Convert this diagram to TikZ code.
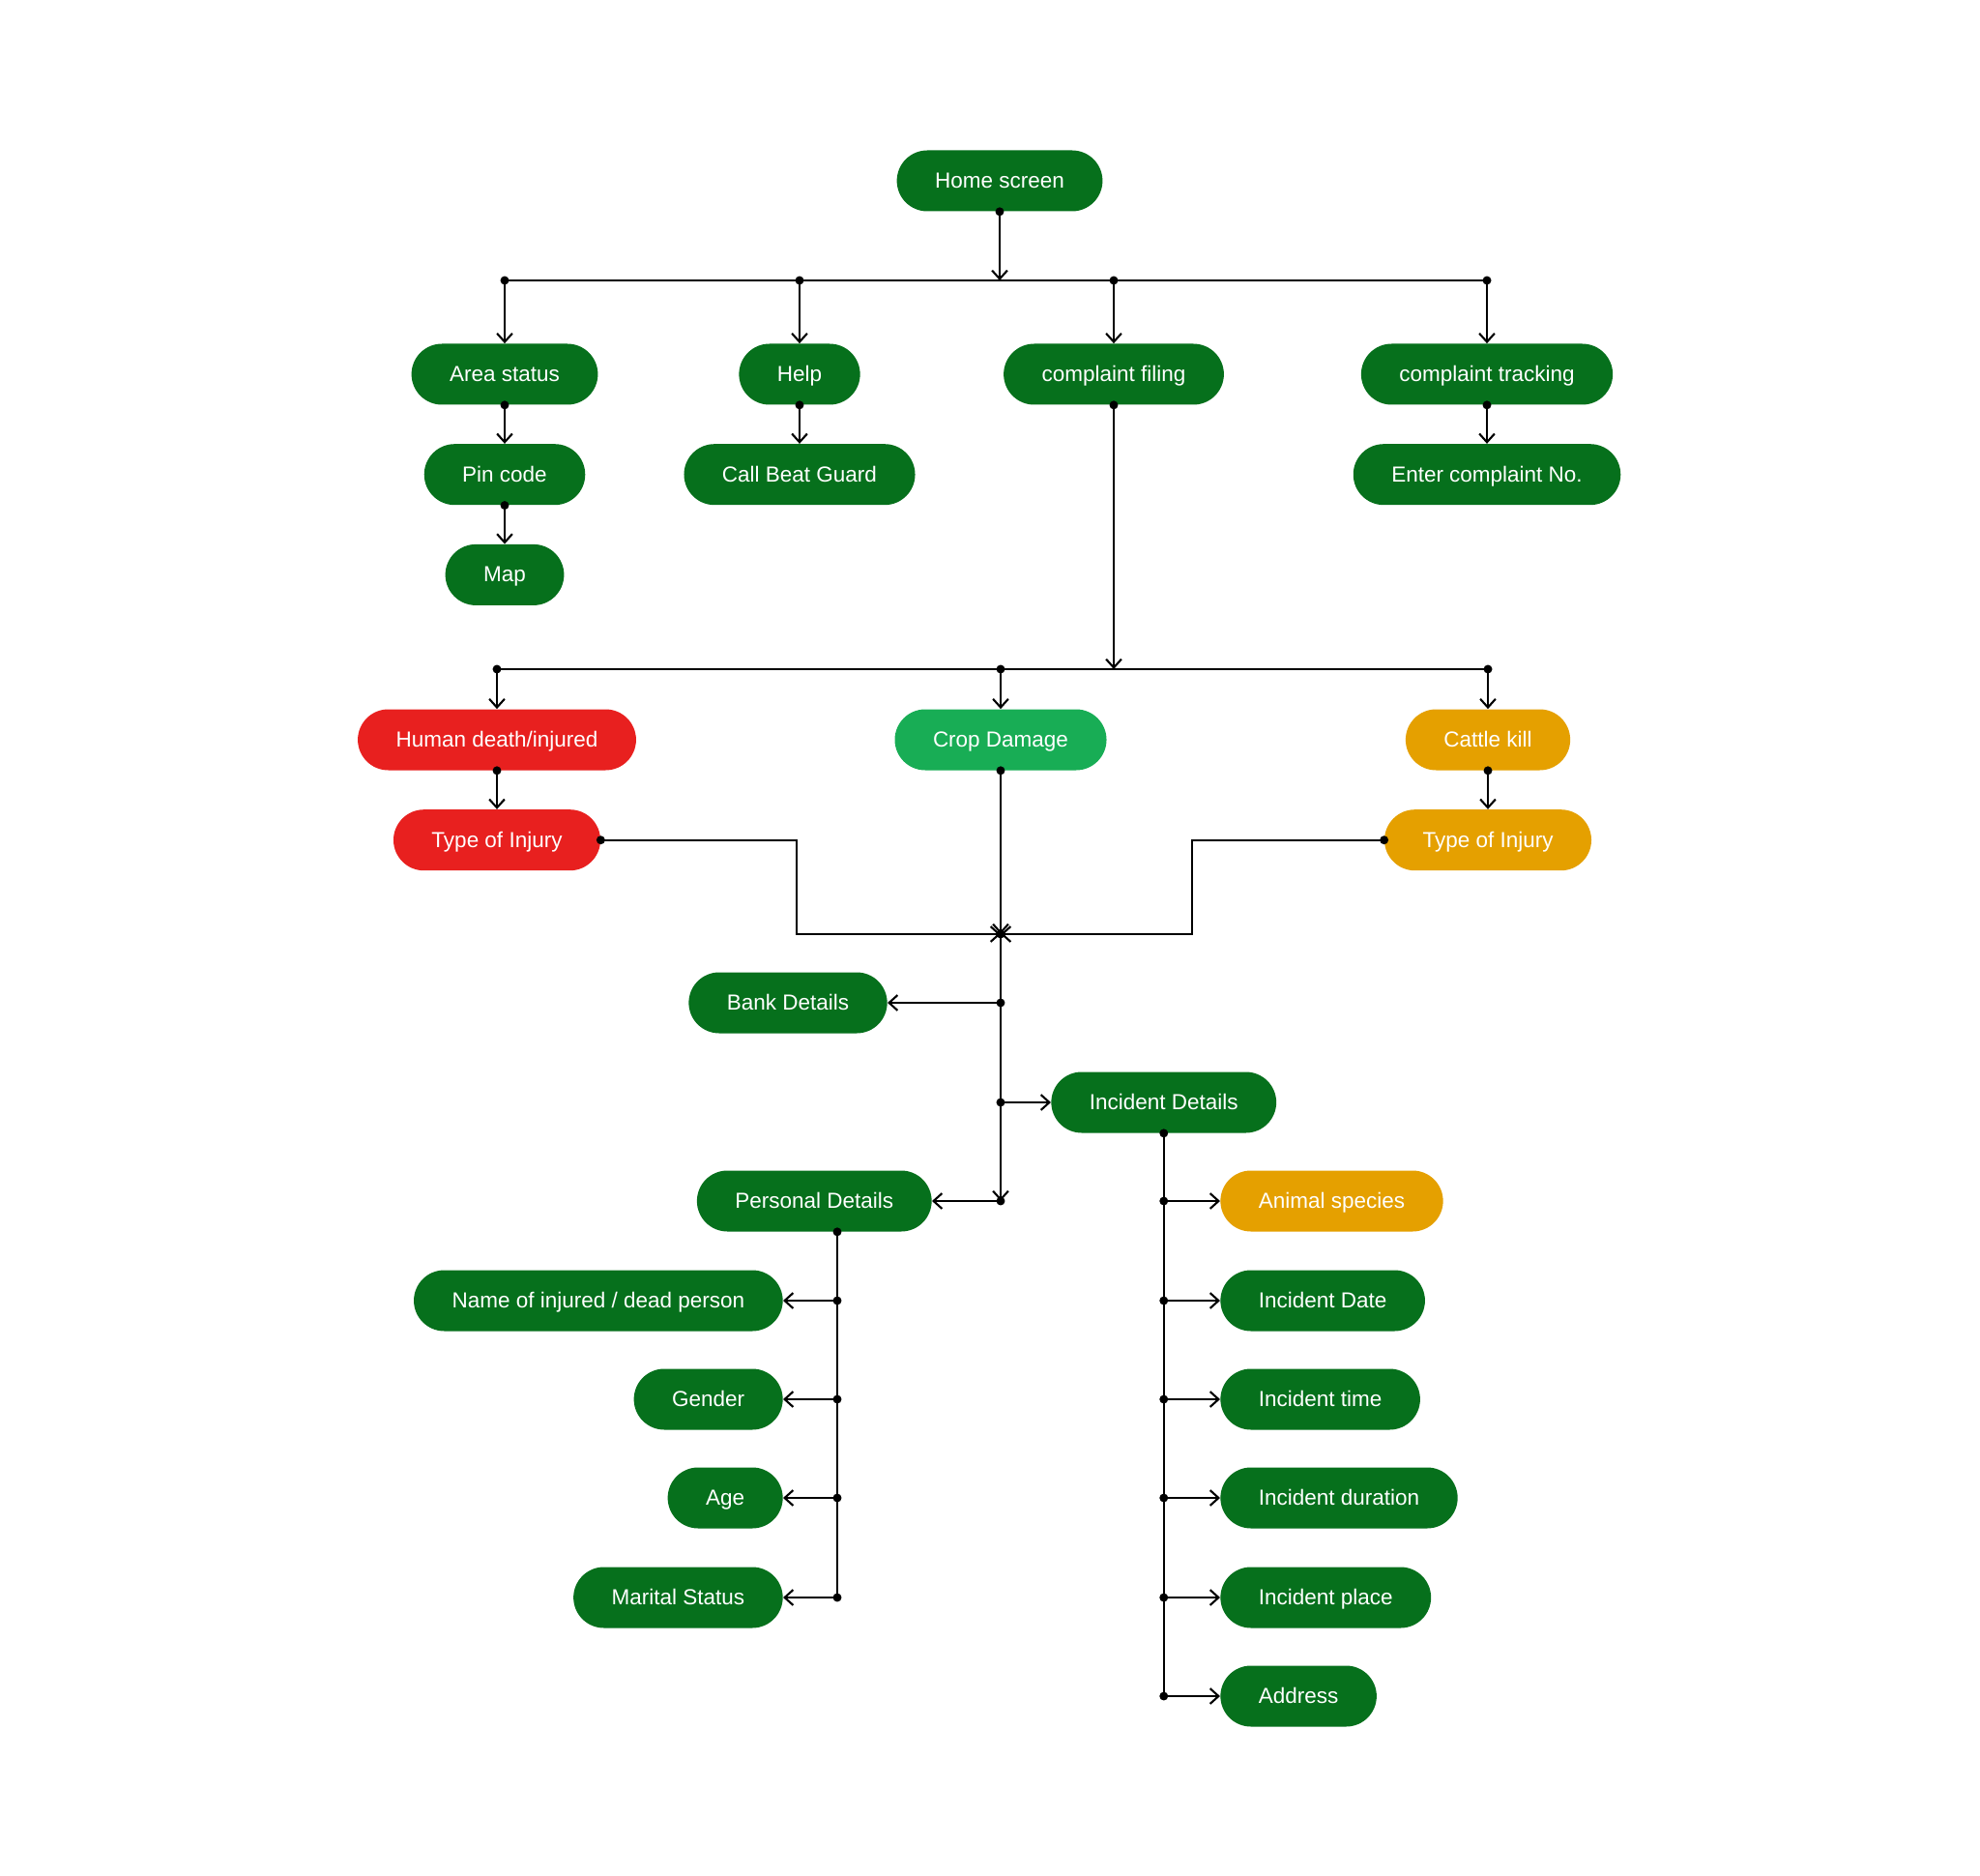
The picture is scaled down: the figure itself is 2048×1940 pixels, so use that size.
\documentclass[tikz,border=0pt]{standalone}
\usepackage{fontspec}
\setmainfont{Liberation Sans}
\usetikzlibrary{arrows.meta, positioning}
\definecolor{appgreen}{HTML}{06701C}
\definecolor{cropgreen}{HTML}{18AD55}
\definecolor{injred}{HTML}{E8201F}
\definecolor{cattleorg}{HTML}{E5A000}
\tikzset{
    screen/.style={
        rectangle, rounded corners=0.63cm, minimum height=1.26cm, inner xsep=0.79cm,
        fill=appgreen, text=white, font=\fontsize{12.8}{15}\selectfont,
        text height=2ex, text depth=0.4ex
    },
    humanbox/.style={
        fill=injred
    },
    cropbox/.style={
        fill=cropgreen
    },
    cattlebox/.style={
        fill=cattleorg
    },
    arrow/.style={
        {Circle[length=5pt]}-{Straight Barb[length=5pt,width=9pt]}, shorten <=-2.5pt,
        line width=1.2pt, draw=black
    },
    bus/.style={
        line width=1.2pt, draw=black
    }
}

\begin{document}
\begin{tikzpicture}[x=0.2mm, y=-0.2mm, node distance=0.8cm]

    \fill[white] (0,0) rectangle (2048,1940);
    \useasboundingbox (0,0) rectangle (2048,1940);

    % main menu
    \node[screen]                   (home)     at (1034,187)  {Home screen};
    \node[screen]                   (area)     at (522,387)   {Area status};
    \node[screen]                   (help)     at (827,387)   {Help};
    \node[screen]                   (filing)   at (1152,387)  {complaint filing};
    \node[screen]                   (tracking) at (1538,387)  {complaint tracking};
    \node[screen, below=of area]    (pin)      {Pin code};
    \node[screen, below=of pin]     (map)      {Map};
    \node[screen, below=of help]    (beat)     {Call Beat Guard};
    \node[screen, below=of tracking] (enter)   {Enter complaint No.};

    % complaint types
    \node[screen, humanbox]                     (human)    at (514,765)  {Human death/injured};
    \node[screen, cropbox]                      (crop)     at (1035,765) {Crop Damage};
    \node[screen, cattlebox]                    (cattle)   at (1539,765) {Cattle kill};
    \node[screen, humanbox, below=of human]     (injleft)  {Type of Injury};
    \node[screen, cattlebox, below=of cattle]   (injright) {Type of Injury};

    % claim details
    \node[screen, anchor=east] (bank)     at (918,1037)  {Bank Details};
    \node[screen, anchor=west] (incident) at (1087,1140) {Incident Details};
    \node[screen, anchor=east] (personal) at (964,1242)  {Personal Details};

    \node[screen, anchor=east] (name)    at (810,1345) {Name of injured / dead person};
    \node[screen, anchor=east] (gender)  at (810,1447) {Gender};
    \node[screen, anchor=east] (age)     at (810,1549) {Age};
    \node[screen, anchor=east] (marital) at (810,1652) {Marital Status};

    \node[screen, cattlebox, anchor=west] (species)  at (1262,1242) {Animal species};
    \node[screen, anchor=west]            (date)     at (1262,1345) {Incident Date};
    \node[screen, anchor=west]            (time)     at (1262,1447) {Incident time};
    \node[screen, anchor=west]            (duration) at (1262,1549) {Incident duration};
    \node[screen, anchor=west]            (place)    at (1262,1652) {Incident place};
    \node[screen, anchor=west]            (address)  at (1262,1754) {Address};

    % junction points
    \coordinate (hub)   at (home |- 0,290);
    \coordinate (busA)  at (area |- hub);
    \coordinate (busH)  at (help |- hub);
    \coordinate (busF)  at (filing |- hub);
    \coordinate (busT)  at (tracking |- hub);
    \coordinate (split) at (filing |- 0,692);
    \coordinate (busHD) at (human |- split);
    \coordinate (busCD) at (crop |- split);
    \coordinate (busCK) at (cattle |- split);
    \coordinate (merge) at (crop |- 0,966);
    \coordinate (elbowL) at (824,966);
    \coordinate (elbowR) at (1233,966);
    \coordinate (spB)   at (merge |- bank);
    \coordinate (spI)   at (merge |- incident);
    \coordinate (spP)   at (merge |- personal);
    \coordinate (pdtop) at (personal.south -| 866,0);
    \coordinate (idtop) at (incident.south);

    % menu connectors
    \draw[arrow] (home)  -- (hub);
    \draw[bus]   (busA)  -- (busT);
    \draw[arrow] (busA)  -- (area);
    \draw[arrow] (busH)  -- (help);
    \draw[arrow] (busF)  -- (filing);
    \draw[arrow] (busT)  -- (tracking);
    \draw[arrow] (area)  -- (pin);
    \draw[arrow] (pin)   -- (map);
    \draw[arrow] (help)  -- (beat);
    \draw[arrow] (tracking) -- (enter);

    % complaint connectors
    \draw[arrow] (filing) -- (split);
    \draw[bus]   (busHD)  -- (busCK);
    \draw[arrow] (busHD)  -- (human);
    \draw[arrow] (busCD)  -- (crop);
    \draw[arrow] (busCK)  -- (cattle);
    \draw[arrow] (human)  -- (injleft);
    \draw[arrow] (cattle) -- (injright);
    \draw[arrow] (injleft.east)  -| (elbowL) -- (merge);
    \draw[arrow] (injright.west) -| (elbowR) -- (merge);
    \draw[arrow] (crop)   -- (merge);

    % details connectors
    \draw[arrow] (merge) -- (spP);
    \draw[arrow] (spB)   -- (bank);
    \draw[arrow] (spI)   -- (incident);
    \draw[arrow] (spP)   -- (personal);

    \draw[bus, {Circle[length=5pt]}-, shorten <=-2.5pt] (pdtop) -- (pdtop |- marital);
    \draw[arrow] (pdtop |- name)    -- (name);
    \draw[arrow] (pdtop |- gender)  -- (gender);
    \draw[arrow] (pdtop |- age)     -- (age);
    \draw[arrow] (pdtop |- marital) -- (marital);

    \draw[bus, {Circle[length=5pt]}-, shorten <=-2.5pt] (idtop) -- (idtop |- address);
    \draw[arrow] (idtop |- species)  -- (species);
    \draw[arrow] (idtop |- date)     -- (date);
    \draw[arrow] (idtop |- time)     -- (time);
    \draw[arrow] (idtop |- duration) -- (duration);
    \draw[arrow] (idtop |- place)    -- (place);
    \draw[arrow] (idtop |- address)  -- (address);

\end{tikzpicture}
\end{document}
